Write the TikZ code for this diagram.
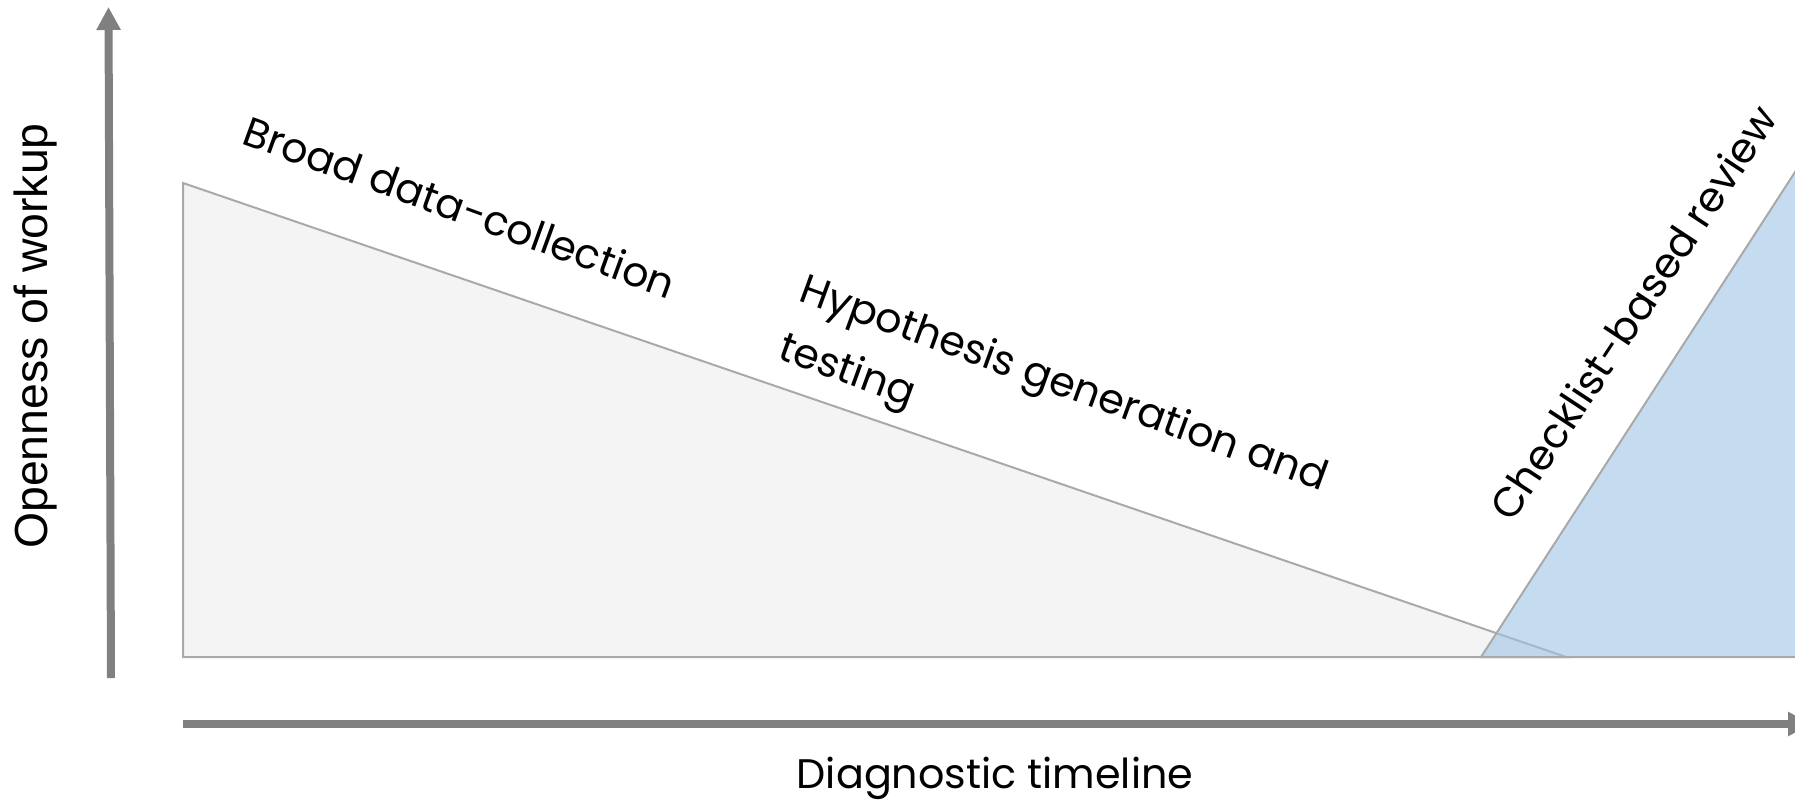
\documentclass[tikz,border=0pt]{standalone}
\usepackage{fontspec}
\setmainfont{Poppins}
\newfontfamily\axisfont{Liberation Sans}
\usetikzlibrary{arrows.meta}
\definecolor{AxisGray}{HTML}{808080}
\definecolor{PhaseLine}{HTML}{A9A9A9}
\definecolor{PhaseGray}{HTML}{F4F4F4}
\definecolor{PhaseBlue}{HTML}{9DC3E6}

\begin{document}
\begin{tikzpicture}[x=0.02cm,y=-0.02cm]
    \tikzset{axisarrow/.style={AxisGray,line width=0.16cm,-{Triangle[length=0.46cm,width=0.46cm]}},
      phase/.style={draw=PhaseLine,line width=0.04cm},
      phaselabel/.style={inner sep=0pt,anchor=base west,font=\fontsize{23.5}{35}\selectfont}}
    \clip (0,0) rectangle (1795,801);
    % axes
    \coordinate (ybot) at (111,678);
    \coordinate (ytop) at (108.5,7);
    \coordinate (xleft) at (183,724);
    \coordinate (xright) at (1811,724);
    \draw[axisarrow] (ybot)--(ytop);
    \draw[axisarrow] (xleft)--(xright);
    % phases
    \draw[phase,fill=PhaseGray] (183,183)--(1566,657)--(183,657)--cycle;
    \draw[phase,fill=PhaseBlue,fill opacity=0.6] (1481,657)--(1830,657)--(1830,118)--cycle;
    \node[phaselabel,rotate=-20] (broad) at (240,143) {Broad data-collection};
    \node[phaselabel,rotate=-20,align=left] (hypo) at (776,358) {Hypothesis generation and\\testing};
    \node[phaselabel,rotate=56.6] (check) at (1512,524) {Checklist-based review};
    \node[rotate=90,anchor=base,inner sep=0pt,font=\axisfont\fontsize{26.4}{30}\selectfont] (openness) at (48,336) {Openness of workup};
    \node[phaselabel,anchor=base] (timeline) at (995,788) {Diagnostic timeline};
  \end{tikzpicture}
\end{document}
